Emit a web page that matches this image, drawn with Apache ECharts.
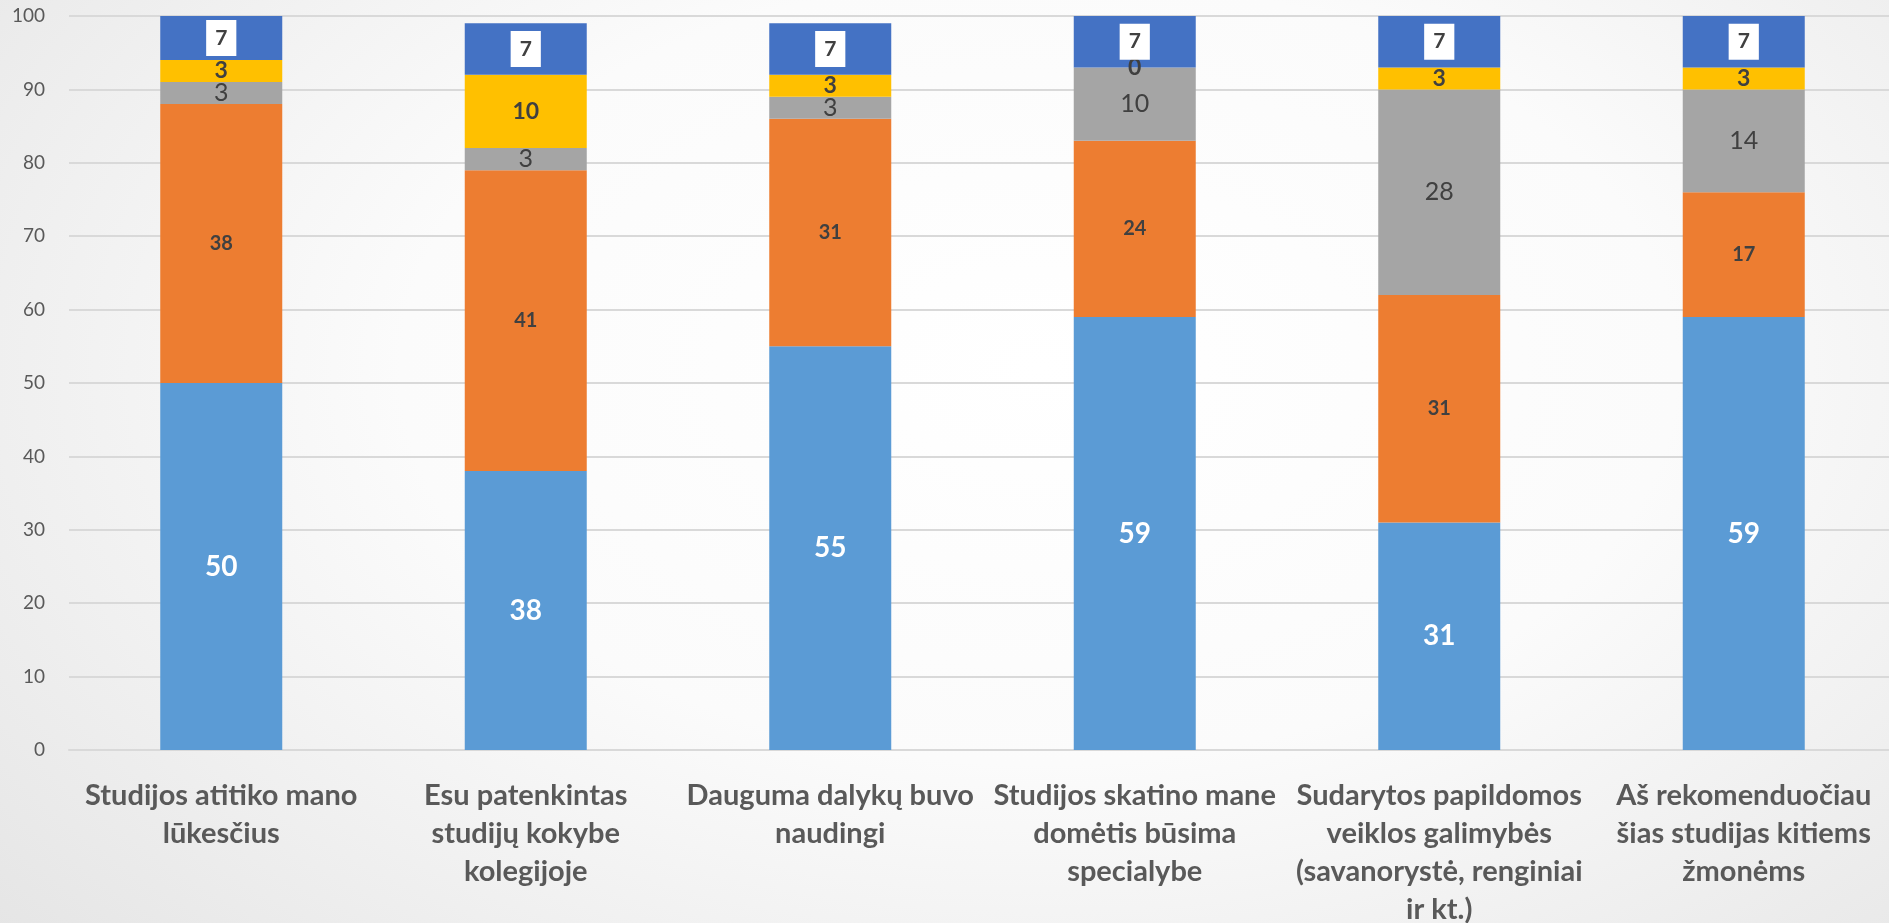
<!DOCTYPE html>
<html>
<head>
<meta charset="utf-8">
<script src="https://cdn.jsdelivr.net/npm/echarts@6/dist/echarts.min.js"></script>
<style>
  html, body { margin: 0; padding: 0; }
  body {
    width: 1889px; height: 923px; overflow: hidden;
    background: radial-gradient(ellipse 75% 95% at 55% 40%, #ffffff 0%, #fbfbfb 45%, #e4e4e4 100%);
  }
  #chart { width: 1889px; height: 923px; }
</style>
</head>
<body>
<div id="chart"></div>
<script>
const categories = [
  "Studijos atitiko mano\nlūkesčius",
  "Esu patenkintas\nstudijų kokybe\nkolegijoje",
  "Dauguma dalykų buvo\nnaudingi",
  "Studijos skatino mane\ndomėtis būsima\nspecialybe",
  "Sudarytos papildomos\nveiklos galimybės\n(savanorystė, renginiai\nir kt.)",
  "Aš rekomenduočiau\nšias studijas kitiems\nžmonėms"
];
const s1 = [50, 38, 55, 59, 31, 59];
const s2 = [38, 41, 31, 24, 31, 17];
const s3 = [3, 3, 3, 10, 28, 14];
const s4 = [3, 10, 3, 0, 3, 3];
const s5 = [7, 7, 7, 7, 7, 7];
const yTicks = [0, 100, 10];

const font = 'Lato, "Open Sans", sans-serif';
const dark = '#404040';

function mk(name, data, color, label) {
  return {
    name, type: 'bar', stack: 'total', data, barWidth: 122,
    itemStyle: { color },
    label: Object.assign({ show: true, position: 'inside', fontFamily: font }, label)
  };
}

const chart = echarts.init(document.getElementById('chart'), null, { renderer: 'canvas' });
chart.setOption({
  backgroundColor: 'transparent',
  animation: false,
  grid: { left: 69, top: 16, bottom: 173, width: 1827, containLabel: false, outerBoundsMode: 'none' },
  xAxis: {
    type: 'category', data: categories,
    axisTick: { show: false },
    axisLine: { show: true, lineStyle: { color: '#d9d9d9', width: 2 } },
    axisLabel: {
      interval: 0, margin: 27, fontFamily: font, fontSize: 29, fontWeight: 'bold',
      color: '#595959', lineHeight: 38, align: 'center'
    }
  },
  yAxis: {
    type: 'value', min: yTicks[0], max: yTicks[1], interval: yTicks[2],
    axisLine: { show: false }, axisTick: { show: false },
    splitLine: { lineStyle: { color: '#d9d9d9', width: 2 } },
    axisLabel: { fontFamily: font, fontSize: 19, color: '#595959', margin: 24 }
  },
  series: [
    mk('s1', s1, '#5B9BD5', { color: '#ffffff', fontSize: 28, fontWeight: 'bold' }),
    mk('s2', s2, '#ED7D31', { color: dark, fontSize: 20, fontWeight: 'bold' }),
    mk('s3', s3, '#A5A5A5', { color: dark, fontSize: 25 }),
    mk('s4', s4, '#FFC000', { color: dark, fontSize: 23, fontWeight: 'bold' }),
    mk('s5', s5, '#4472C4', { color: dark, fontSize: 21, fontWeight: 'bold', backgroundColor: '#ffffff', padding: [8, 9, 7, 9] })
  ]
});
</script>
</body>
</html>
